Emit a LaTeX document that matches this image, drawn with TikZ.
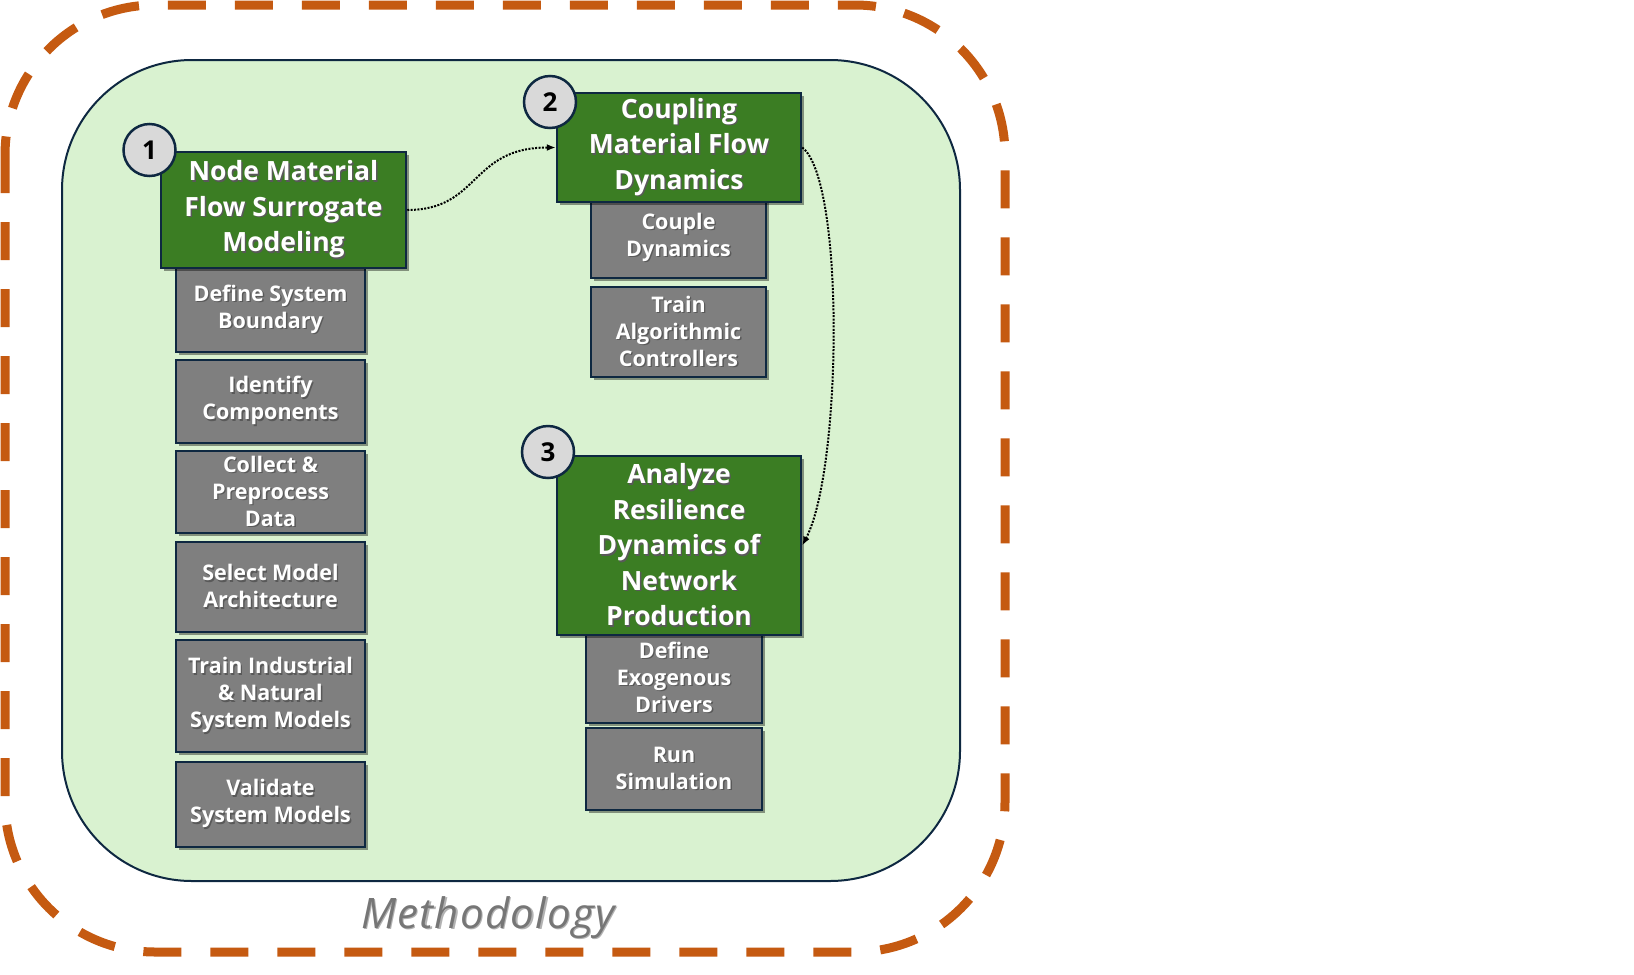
\documentclass[tikz,border=0pt]{standalone}
\usepackage{fontspec}
\setmainfont{Open Sans}
\usetikzlibrary{shadows,arrows.meta}
\definecolor{dashorange}{HTML}{C55A11}
\definecolor{navy}{HTML}{0E2841}
\definecolor{panelgreen}{HTML}{D9F2D0}
\definecolor{boxgreen}{HTML}{3B7D23}
\definecolor{boxgray}{HTML}{7F7F7F}
\definecolor{circgray}{HTML}{D9D9D9}
\definecolor{methgray}{HTML}{767676}
\newcommand\sht[2][black!65]{\leavevmode\rlap{\kern1.4pt\raisebox{-1.4pt}{\textcolor{#1}{#2}}}#2}
\begin{document}
\begin{tikzpicture}[x=1pt,y=-1pt,
  boxshadow/.style={drop shadow={shadow xshift=3pt,shadow yshift=-3pt,opacity=0.4,fill=black}},
  greenbox/.style={rectangle,draw=navy,line width=2.5pt,fill=boxgreen,text=white,
    font=\fontsize{26.5}{35.5}\selectfont\bfseries,align=center,inner sep=0pt,boxshadow},
  graybox/.style={rectangle,draw=navy,line width=2.5pt,fill=boxgray,text=white,
    font=\fontsize{21.5}{27}\selectfont\bfseries,align=center,inner sep=0pt,boxshadow},
  numcirc/.style={circle,draw=navy,line width=2.5pt,fill=circgray,minimum size=52pt,inner sep=0pt,
    font=\fontsize{26}{26}\selectfont\bfseries},
  flowarrow/.style={dash pattern=on 2pt off 1.4pt,line width=2pt,-{Latex[length=9pt,width=7pt]}}
]
\useasboundingbox (0,0) rectangle (1634,975);
\fill[white] (0,0) rectangle (1634,975);

% outer dashed frame
\draw[dashorange,line width=9pt,dash pattern=on 38pt off 29pt,rounded corners=150pt]
  (5,5) rectangle (1005,952);
% inner panel
\draw[navy,line width=2pt,fill=panelgreen,rounded corners=130pt] (62,60) rectangle (960,881);

% column 1 gray boxes
\node[graybox,minimum width=189pt,minimum height=84pt] (g11) at (270.5,310) {\sht{Define System}\\\sht{Boundary}};
\node[graybox,minimum width=189pt,minimum height=83pt] (g12) at (270.5,401.5) {\sht{Identify}\\\sht{Components}};
\node[graybox,minimum width=189pt,minimum height=82pt] (g13) at (270.5,492) {\sht{Collect \&}\\\sht{Preprocess}\\\sht{Data}};
\node[graybox,minimum width=189pt,minimum height=90pt] (g14) at (270.5,587) {\sht{Select Model}\\\sht{Architecture}};
\node[graybox,minimum width=189pt,minimum height=112pt] (g15) at (270.5,696) {\sht{Train Industrial}\\\sht{\& Natural}\\\sht{System Models}};
\node[graybox,minimum width=189pt,minimum height=85pt] (g16) at (270.5,804.5) {\sht{Validate}\\\sht{System Models}};

% column 2 gray boxes
\node[graybox,minimum width=175pt,minimum height=80pt] (g21) at (678.5,238) {\sht{Couple}\\\sht{Dynamics}};
\node[graybox,minimum width=175pt,minimum height=90pt] (g22) at (678.5,332) {\sht{Train}\\\sht{Algorithmic}\\\sht{Controllers}};

% column 3 gray boxes
\node[graybox,minimum width=176pt,minimum height=90pt] (g31) at (674,678) {\sht{Define}\\\sht{Exogenous}\\\sht{Drivers}};
\node[graybox,minimum width=176pt,minimum height=82pt] (g32) at (674,769) {\sht{Run}\\\sht{Simulation}};

% green step boxes
\node[greenbox,minimum width=245pt,minimum height=116pt] (b1) at (283.5,210) {\sht{Node Material}\\\sht{Flow Surrogate}\\\sht{Modeling}};
\node[greenbox,minimum width=244pt,minimum height=109pt] (b2) at (679,147.5) {\sht{Coupling}\\\sht{Material Flow}\\\sht{Dynamics}};
\node[greenbox,minimum width=244pt,minimum height=179pt] (b3) at (679,545.5) {\sht{Analyze}\\\sht{Resilience}\\\sht{Dynamics of}\\\sht{Network}\\\sht{Production}};

% number circles
\node[numcirc] (n1) at (149.5,150) {1};
\node[numcirc] (n2) at (550,102) {2};
\node[numcirc] (n3) at (548,452) {3};

% connectors
\draw[flowarrow] (b1.east) .. controls (480,210) and (470,147.5) .. (b2.west);
\draw[flowarrow] (b2.east) .. controls (845,180) and (842,470) .. (b3.east);

% caption
\node[anchor=base,text=methgray,font=\fontsize{42}{48}\selectfont\itshape\addfontfeatures{LetterSpace=3}] (cap) at (488,928) {\sht[black!30]{Methodology}};
\end{tikzpicture}
\end{document}
